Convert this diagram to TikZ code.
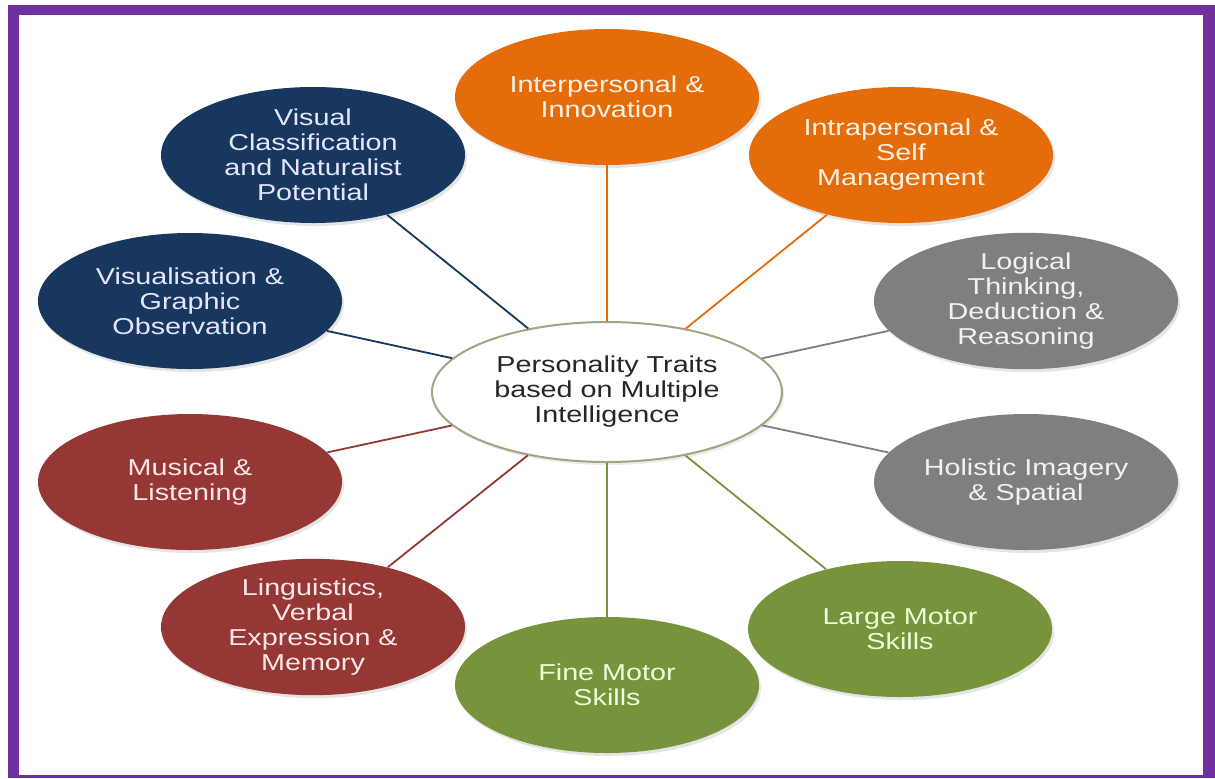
\documentclass[tikz,border=0pt]{standalone}
\usepackage{fontspec}
\setmainfont{Liberation Sans}[FakeStretch=1.25]
\usetikzlibrary{shapes.geometric,shadows}
\definecolor{framepurple}{HTML}{7030A0}
\definecolor{traitorange}{HTML}{E46C0A}
\definecolor{traitnavy}{HTML}{17375E}
\definecolor{traitgrey}{HTML}{7F7F7F}
\definecolor{traitgreen}{HTML}{77933C}
\definecolor{traitred}{HTML}{953735}
\definecolor{hubline}{HTML}{A3A385}
\begin{document}
\begin{tikzpicture}[x=0.5pt,y=-0.5pt,
  trait/.style={ellipse,fill=#1,inner sep=0pt,minimum width=152pt,minimum height=68pt,
    align=center,font=\fontsize{11.5pt}{12.5pt}\selectfont,
    drop shadow={opacity=0.2,shadow xshift=1pt,shadow yshift=-1.5pt}},
  hub/.style={ellipse,draw=hubline,line width=1pt,fill=white,inner sep=0pt,
    minimum width=175pt,minimum height=70pt,align=center,text=black!85,
    font=\fontsize{11.5pt}{12.5pt}\selectfont,
    drop shadow={opacity=0.15,shadow xshift=1pt,shadow yshift=-1.5pt}},
  spoke/.style={draw=#1,line width=0.9pt}]
\useasboundingbox (0,0) rectangle (1215,778);
% frame
\fill [framepurple] (8,5) rectangle (1215,778);
\fill [white] (19,15) rectangle (1203,775);
% centre
\node [hub] (hub) at (607,392) {Personality Traits\\based on Multiple\\Intelligence};
% orange
\node [trait=traitorange,text=orange!10] (inter) at (607,97) {Interpersonal \&\\Innovation};
\node [trait=traitorange,text=orange!10] (intra) at (901,155) {Intrapersonal \&\\Self\\Management};
% grey
\node [trait=traitgrey,text=white!95!black] (logic) at (1026,301) {Logical\\Thinking,\\Deduction \&\\Reasoning};
\node [trait=traitgrey,text=white!95!black] (holistic) at (1026,482) {Holistic Imagery\\\& Spatial};
% green
\node [trait=traitgreen,text=green!50!yellow!15] (large) at (900,629) {Large Motor\\Skills};
\node [trait=traitgreen,text=green!50!yellow!15] (fine) at (607,685) {Fine Motor\\Skills};
% red
\node [trait=traitred,text=red!10] (ling) at (313,627) {Linguistics,\\Verbal\\Expression \&\\Memory};
\node [trait=traitred,text=red!10] (music) at (190,482) {Musical \&\\Listening};
% navy
\node [trait=traitnavy,text=blue!10] (visgraph) at (190,301) {Visualisation \&\\Graphic\\Observation};
\node [trait=traitnavy,text=blue!10] (visclass) at (313,155) {Visual\\Classification\\and Naturalist\\Potential};
% spokes
\draw [spoke=traitorange] (hub) -- (inter);
\draw [spoke=traitorange] (hub) -- (intra);
\draw [spoke=traitgrey] (hub) -- (logic);
\draw [spoke=traitgrey] (hub) -- (holistic);
\draw [spoke=traitgreen] (hub) -- (large);
\draw [spoke=traitgreen] (hub) -- (fine);
\draw [spoke=traitred] (hub) -- (ling);
\draw [spoke=traitred] (hub) -- (music);
\draw [spoke=traitnavy] (hub) -- (visgraph);
\draw [spoke=traitnavy] (hub) -- (visclass);
\end{tikzpicture}
\end{document}
